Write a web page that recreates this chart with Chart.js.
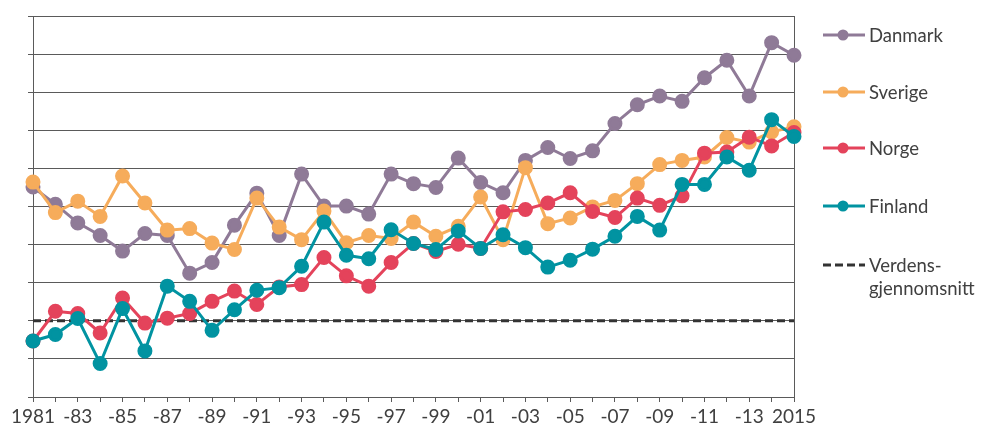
<!DOCTYPE html>
<html>
<head>
<meta charset="utf-8">
<script src="https://cdn.jsdelivr.net/npm/chart.js@4.4.1/dist/chart.umd.min.js"></script>
<style>
html, body { margin: 0; padding: 0; background: #fff; }
#wrap { width: 988px; height: 428px; }
</style>
</head>
<body>
<div id="wrap"><canvas id="chart" width="988" height="428"></canvas></div>
<script>
// Data lest av fra figuren (indeks, ingen enhet på aksen)
const years = [1981, 1982, 1983, 1984, 1985, 1986, 1987, 1988, 1989, 1990,
  1991, 1992, 1993, 1994, 1995, 1996, 1997, 1998, 1999, 2000,
  2001, 2002, 2003, 2004, 2005, 2006, 2007, 2008, 2009, 2010,
  2011, 2012, 2013, 2014, 2015];
const xTickLabels = ['1981', '', '-83', '', '-85', '', '-87', '', '-89', '',
  '-91', '', '-93', '', '-95', '', '-97', '', '-99', '',
  '-01', '', '-03', '', '-05', '', '-07', '', '-09', '',
  '-11', '', '-13', '', '2015'];

const danmark = [5.51, 5.06, 4.57, 4.24, 3.83, 4.29, 4.24, 3.25, 3.53, 4.51,
  5.35, 4.24, 5.85, 5.01, 5.01, 4.80, 5.85, 5.60, 5.50, 6.27,
  5.63, 5.36, 6.21, 6.55, 6.26, 6.46, 7.18, 7.67, 7.90, 7.76,
  8.38, 8.84, 7.90, 9.30, 8.97];
const sverige = [5.64, 4.84, 5.14, 4.74, 5.80, 5.09, 4.38, 4.42, 4.04, 3.87,
  5.22, 4.46, 4.13, 4.88, 4.05, 4.24, 4.16, 4.59, 4.22, 4.48,
  5.25, 4.13, 6.02, 4.55, 4.70, 4.99, 5.16, 5.60, 6.10, 6.21,
  6.30, 6.81, 6.69, 6.96, 7.09];
const norge = [1.47, 2.25, 2.19, 1.68, 2.60, 1.94, 2.07, 2.19, 2.51, 2.78,
  2.43, 2.89, 2.95, 3.66, 3.18, 2.91, 3.53, 4.03, 3.82, 4.01,
  3.90, 4.86, 4.92, 5.09, 5.36, 4.87, 4.71, 5.22, 5.03, 5.28,
  6.40, 6.43, 6.82, 6.59, 6.94];
const finland = [1.47, 1.64, 2.06, 0.88, 2.32, 1.21, 2.91, 2.51, 1.75, 2.29,
  2.80, 2.87, 3.43, 4.59, 3.72, 3.63, 4.39, 4.03, 3.87, 4.36,
  3.90, 4.26, 3.92, 3.41, 3.59, 3.88, 4.22, 4.74, 4.38, 5.58,
  5.58, 6.30, 5.95, 7.28, 6.84];
const verden = [2, 2, 2, 2, 2, 2, 2, 2, 2, 2,
  2, 2, 2, 2, 2, 2, 2, 2, 2, 2,
  2, 2, 2, 2, 2, 2, 2, 2, 2, 2,
  2, 2, 2, 2, 2];

const FONT = 'Lato, "Open Sans", sans-serif';
const TEXT = '#404040';
const AXIS = '#5a5a5a';

function serie(label, data, color, order) {
    return {
        key: label,
        label: label,
        data: data,
        borderColor: color,
        backgroundColor: color,
        pointBackgroundColor: color,
        pointBorderColor: color,
        borderWidth: 3,
        pointRadius: 6,
        pointHoverRadius: 6,
        tension: 0,
        order: order
    };
}

// Egen legende til høyre (linje + punkt + tekst)
const sideLegend = {
    id: 'sideLegend',
    afterDraw(chart) {
        const ctx = chart.ctx;
        const x0 = chart.chartArea.right + 29;
        const rows = [35, 92, 148, 206, 265];
        const items = ['Danmark', 'Sverige', 'Norge', 'Finland', 'Verden'];
        ctx.save();
        ctx.font = '18.5px ' + FONT;
        ctx.textBaseline = 'middle';
        items.forEach((name, i) => {
            const ds = chart.data.datasets.find(d => d.key === name);
            const y = rows[i];
            ctx.strokeStyle = ds.borderColor;
            ctx.lineWidth = 3;
            ctx.setLineDash(ds.borderDash || []);
            ctx.beginPath();
            ctx.moveTo(x0, y);
            ctx.lineTo(x0 + 42, y);
            ctx.stroke();
            ctx.setLineDash([]);
            if (ds.pointRadius > 0) {
                ctx.fillStyle = ds.borderColor;
                ctx.beginPath();
                ctx.arc(x0 + 20, y, 5.5, 0, Math.PI * 2);
                ctx.fill();
            }
            ctx.fillStyle = TEXT;
            const lines = Array.isArray(ds.label) ? ds.label : [ds.label];
            lines.forEach((t, j) => ctx.fillText(t, x0 + 46, y + 1 + j * 23));
        });
        ctx.restore();
    }
};

const datasets = [
    serie('Danmark', danmark, '#8f7a97', 4),
    serie('Sverige', sverige, '#f6ac5b', 3),
    serie('Norge', norge, '#e4435b', 2),
    serie('Finland', finland, '#0193a1', 1),
    {
        key: 'Verden',
        label: ['Verdens-', 'gjennomsnitt'],
        data: verden,
        borderColor: '#333333',
        borderWidth: 3,
        borderDash: [8, 4],
        pointRadius: 0,
        order: 5
    }
];

const ctx = document.getElementById('chart').getContext('2d');
new Chart(ctx, {
    type: 'line',
    data: { labels: years, datasets: datasets },
    plugins: [sideLegend],
    options: {
        responsive: false,
        animation: false,
        devicePixelRatio: 1,
        layout: { padding: { top: 16, right: 193, bottom: 0, left: 0 } },
        plugins: {
            legend: { display: false },
            tooltip: { enabled: false }
        },
        scales: {
            x: {
                type: 'category',
                offset: false,
                afterFit: s => { s.height = 31; },
                grid: { drawOnChartArea: false, drawTicks: true, tickLength: 5, color: AXIS },
                border: { color: AXIS, width: 1 },
                ticks: {
                    autoSkip: false,
                    maxRotation: 0,
                    padding: 3,
                    color: TEXT,
                    font: { family: FONT, size: 19 },
                    callback: (v, i) => xTickLabels[i]
                }
            },
            y: {
                min: 0,
                max: 10,
                afterFit: s => { s.width = 33; },
                grid: { color: AXIS, tickLength: 5, drawTicks: true },
                border: { color: AXIS, width: 1 },
                ticks: { stepSize: 1, display: false }
            },
            y2: {
                position: 'right',
                min: 0,
                max: 10,
                afterFit: s => { s.width = 1; },
                grid: { drawOnChartArea: false, drawTicks: false },
                border: { color: AXIS, width: 1 },
                ticks: { display: false }
            }
        }
    }
});
</script>
</body>
</html>
